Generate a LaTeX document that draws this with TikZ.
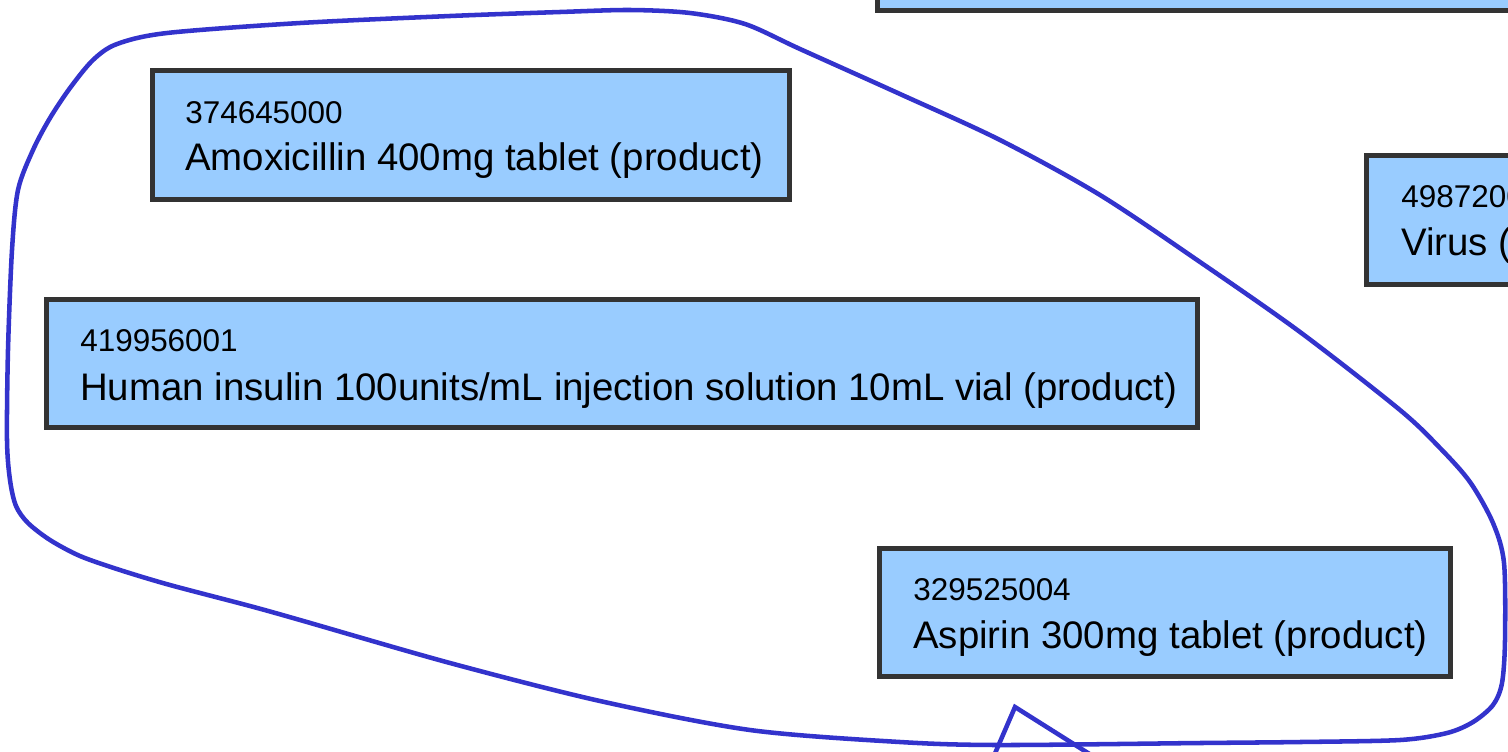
\documentclass[tikz,border=0pt]{standalone}
\usepackage{fontspec}
\setmainfont{Liberation Sans}
\usetikzlibrary{fit}
\definecolor{boxfill}{HTML}{99CCFF}
\definecolor{boxline}{HTML}{333333}
\definecolor{lasso}{HTML}{3333CC}
\begin{document}
\begin{tikzpicture}[x=0.75pt,y=-0.75pt,
  conceptbox/.style={draw=boxline, fill=boxfill, line width=3.75pt, inner sep=0pt, rectangle},
  codetext/.style={anchor=base west, inner sep=0pt, font=\fontsize{23.6}{28}\selectfont},
  nametext/.style={anchor=base west, inner sep=0pt, font=\fontsize{28.8}{34}\selectfont},
  lassoline/.style={draw=lasso, line width=3.4pt, line join=round}]
\useasboundingbox (0,0) rectangle (1508,751);
\clip (0,0) rectangle (1508,751);

% top box (mostly off-canvas)
\coordinate (topNW) at (877.5,-120);
\coordinate (topSE) at (1620,10.5);
\node[conceptbox, fit=(topNW)(topSE)] (topbox) {};

% Amoxicillin
\coordinate (amoxNW) at (152.5,70.5);
\coordinate (amoxSE) at (789,199.5);
\node[conceptbox, fit=(amoxNW)(amoxSE)] (amox) {};
\node[codetext] (amoxcode) at (185,123) {374645000};
\node[nametext] (amoxname) at (185,170) {Amoxicillin 400mg tablet (product)};

% Insulin
\coordinate (insNW) at (46.5,299.5);
\coordinate (insSE) at (1197.5,427.5);
\node[conceptbox, fit=(insNW)(insSE)] (ins) {};
\node[codetext] (inscode) at (80,351) {419956001};
\node[nametext] (insname) at (80,400) {Human insulin 100units/mL injection solution 10mL vial (product)};

% Aspirin
\coordinate (aspNW) at (879.5,548.5);
\coordinate (aspSE) at (1450.5,676);
\node[conceptbox, fit=(aspNW)(aspSE)] (asp) {};
\node[codetext] (aspcode) at (913,600) {329525004};
\node[nametext] (aspname) at (913,648) {Aspirin 300mg tablet (product)};

% Virus
\coordinate (virNW) at (1366.5,155.5);
\coordinate (virSE) at (1800,284.5);
\node[conceptbox, fit=(virNW)(virSE)] (vir) {};
\node[codetext] (vircode) at (1401,207) {49872002};
\node[nametext] (virname) at (1401,255) {Virus (organism)};

% lasso
\draw[lassoline] plot[smooth cycle, tension=0.5] coordinates {
  (630,10) (690,13) (745,24) (800,49) (900,94) (1000,140) (1100,195)
  (1200,262) (1300,332) (1400,410) (1440,448) (1470,482) (1493,523)
  (1504,563) (1505,640) (1502,683) (1493,705) (1473,722) (1447,733)
  (1400,740) (1300,742) (1200,743) (1000,745) (900,742) (750,730)
  (600,701) (450,663) (300,620) (250,606) (170,585) (120,570) (80,556)
  (50,540) (28,523) (16,506) (10,480) (7,440) (8,350) (12,250) (18,190)
  (33,150) (50,118) (70,88) (93,60) (117,44) (167,33) (300,23) (450,16) (560,12)};

% pointer lines at bottom
\coordinate (tipL) at (990,765);
\coordinate (tipA) at (1015,707);
\coordinate (tipR) at (1107,765);
\draw[lassoline, line join=miter] (tipL) -- (tipA) -- (tipR);
\end{tikzpicture}
\end{document}
